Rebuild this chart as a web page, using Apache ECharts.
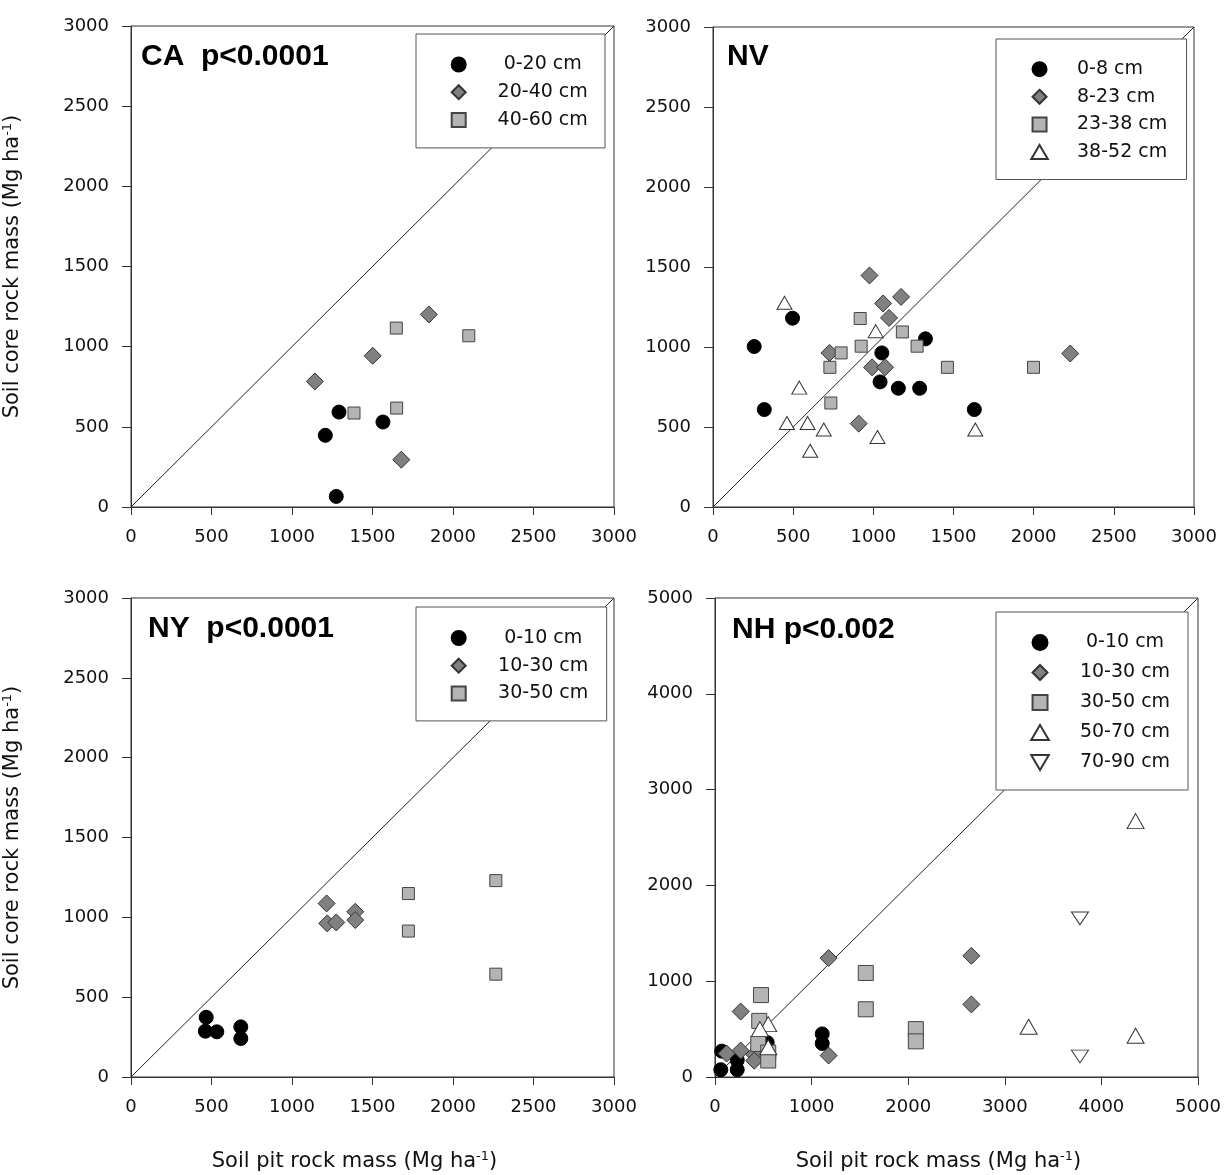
<!DOCTYPE html>
<html>
<head>
<meta charset="utf-8">
<script src="https://cdn.jsdelivr.net/npm/echarts@6/dist/echarts.min.js"></script>
<style>
  html, body { margin: 0; padding: 0; background: #fff; }
  #main { width: 1225px; height: 1175px; }
</style>
</head>
<body>
<div id="main"></div>
<script>
// ---- data (Mg/ha) ----
// CA
const caDepth = ['0-20 cm', '20-40 cm', '40-60 cm'];
const caPit = [[1292, 1207, 1565, 1275], [1142, 1501, 1850, 1679], [1385, 1648, 2098, 1650]];
const caCore = [[592, 447, 530, 66], [783, 943, 1201, 295], [586, 1116, 1068, 617]];
// NV
const nvDepth = ['0-8 cm', '8-23 cm', '23-38 cm', '38-52 cm'];
const nvPit = [
  [257, 496, 320, 1053, 1325, 1042, 1156, 1289, 1630],
  [976, 1061, 1173, 1098, 727, 992, 1073, 909, 2228],
  [918, 799, 729, 924, 1181, 1273, 1462, 1999, 735],
  [446, 1015, 538, 461, 590, 691, 606, 1026, 1636]
];
const nvCore = [
  [1003, 1180, 609, 963, 1051, 782, 742, 742, 609],
  [1447, 1272, 1313, 1182, 963, 873, 873, 521, 959],
  [1178, 963, 873, 1005, 1094, 1005, 873, 873, 650],
  [1276, 1099, 746, 525, 525, 484, 352, 438, 484]
];
// NY
const nyDepth = ['0-10 cm', '10-30 cm', '30-50 cm'];
const nyPit = [[467, 462, 533, 682, 682], [1215, 1219, 1275, 1393, 1393], [1723, 1723, 2266, 2266]];
const nyCore = [[374, 287, 283, 314, 241], [1087, 962, 968, 1035, 983], [1149, 914, 1230, 644]];
// NH
const nhDepth = ['0-10 cm', '10-30 cm', '30-50 cm', '50-70 cm', '70-90 cm'];
const nhPit = [
  [60, 70, 230, 230, 540, 1110, 1110],
  [120, 266, 266, 406, 406, 1176, 1176, 2654, 2654],
  [476, 458, 448, 551, 551, 1561, 1561, 2079, 2079],
  [551, 465, 551, 3247, 4354, 4354],
  [3778, 3778]
];
const nhCore = [
  [76, 270, 76, 175, 360, 450, 350],
  [245, 276, 683, 235, 170, 1241, 224, 1265, 758],
  [855, 586, 345, 255, 172, 1086, 707, 500, 372],
  [552, 500, 310, 524, 2671, 431],
  [1655, 214]
];
// 1:1 lines
const line3000 = [[0, 0], [3000, 3000]];
const line5000 = [[0, 0], [5000, 5000]];
const panelLabels = ['CA  p<0.0001', 'NV', 'NY  p<0.0001', 'NH p<0.002'];

const FONT = 'DejaVu Sans';
const downTri = 'path://M0,0L20,0L10,17Z';
// legend icons as paths so they keep their aspect inside a wide item box
const legendIcons = [
  'circle',
  'path://M10,0L20,10L10,20L0,10Z',
  'path://M0,0L20,0L20,20L0,20Z',
  'path://M10,0L20,17L0,17Z',
  downTri
];
// marker look per depth order
const marks = [
  { symbol: 'circle', size: 14, fill: '#000', border: '#000' },
  { symbol: 'diamond', size: 17, fill: '#808080', border: '#333' },
  { symbol: 'rect', size: 12, fill: '#b4b4b4', border: '#444' },
  { symbol: 'triangle', size: [15, 13], fill: '#fff', border: '#333' },
  { symbol: downTri, size: [15, 13], fill: '#fff', border: '#333' }
];
const marksNH = [
  { symbol: 'circle', size: 14, fill: '#000', border: '#000' },
  { symbol: 'diamond', size: 17, fill: '#808080', border: '#333' },
  { symbol: 'rect', size: 15, fill: '#b4b4b4', border: '#444' },
  { symbol: 'triangle', size: [17, 15], fill: '#fff', border: '#333' },
  { symbol: downTri, size: [17, 15], fill: '#fff', border: '#333' }
];

let series = [];
function addPanel(idx, names, pit, core, look, unity) {
  series.push({
    type: 'line', xAxisIndex: idx, yAxisIndex: idx, data: unity,
    showSymbol: false, silent: true, z: 1,
    lineStyle: { color: '#222', width: 1 }
  });
  names.forEach((name, k) => {
    let m = look[k];
    series.push({
      name: name, type: 'scatter', xAxisIndex: idx, yAxisIndex: idx,
      symbol: m.symbol, symbolSize: m.size, symbolKeepAspect: true,
      itemStyle: { color: m.fill, borderColor: m.border, borderWidth: 1, opacity: 1 },
      data: pit[k].map((x, i) => [x, core[k][i]]),
      z: 3
    });
  });
}
addPanel(0, caDepth, caPit, caCore, marks, line3000);
addPanel(1, nvDepth, nvPit, nvCore, marks, line3000);
addPanel(2, nyDepth, nyPit, nyCore, marks, line3000);
addPanel(3, nhDepth, nhPit, nhCore, marksNH, line5000);

function legendBox(names, left, top, pad, gap, halfW, iconH, textW, align) {
  return {
    data: names.map((n, k) => ({ name: n, icon: legendIcons[k] })),
    orient: 'vertical', left: left, top: top, padding: pad,
    itemGap: gap, itemWidth: halfW * 2, itemHeight: iconH,
    backgroundColor: '#fff', borderColor: '#555', borderWidth: 1, z: 10,
    selectedMode: false,
    formatter: '{t|{name}}',
    textStyle: {
      rich: { t: { fontFamily: FONT, fontSize: 19, color: '#111', width: textW, align: align, lineHeight: 20 } }
    }
  };
}

const plainNum = v => String(v);

function xAx(idx, max, step, named) {
  let ax = {
    type: 'value', gridIndex: idx, min: 0, max: max, interval: step,
    splitLine: { show: false },
    axisLine: { lineStyle: { color: '#333', width: 1 } },
    axisTick: { length: 8, lineStyle: { color: '#333' } },
    axisLabel: { fontFamily: FONT, fontSize: 18, color: '#111', margin: 21, formatter: plainNum }
  };
  if (named) {
    ax.name = 'Soil pit rock mass (Mg ha{sup|-1})';
    ax.nameLocation = 'middle';
    ax.nameGap = 73;
    ax.nameTextStyle = {
      fontFamily: FONT, fontSize: 21, color: '#111', padding: [0, 36, 0, 0], lineHeight: 24,
      rich: { sup: { fontFamily: FONT, fontSize: 13, color: '#111', verticalAlign: 'top', lineHeight: 14 } }
    };
  }
  return ax;
}
function yAx(idx, max, step, named) {
  let ax = {
    type: 'value', gridIndex: idx, min: 0, max: max, interval: step,
    splitLine: { show: false },
    axisLine: { lineStyle: { color: '#333', width: 1 } },
    axisTick: { length: 9, lineStyle: { color: '#333' } },
    axisLabel: { fontFamily: FONT, fontSize: 18, color: '#111', margin: 22, formatter: plainNum }
  };
  if (named) {
    ax.name = 'Soil core rock mass (Mg ha{sup|-1})';
    ax.nameLocation = 'middle';
    ax.nameGap = 106;
    ax.nameTextStyle = {
      fontFamily: FONT, fontSize: 21, color: '#111', lineHeight: 24,
      rich: { sup: { fontFamily: FONT, fontSize: 13, color: '#111', verticalAlign: 'top', lineHeight: 14 } }
    };
  }
  return ax;
}

const titleStyle = { fontFamily: 'Liberation Sans', fontSize: 30, fontWeight: 'bold', color: '#000' };

let option = {
  animation: false,
  backgroundColor: '#fff',
  title: [
    { text: panelLabels[0], left: 141, top: 42, padding: 0, textStyle: titleStyle },
    { text: panelLabels[1], left: 727, top: 42, padding: 0, textStyle: titleStyle },
    { text: panelLabels[2], left: 148, top: 614, padding: 0, textStyle: titleStyle },
    { text: panelLabels[3], left: 732, top: 615, padding: 0, textStyle: titleStyle }
  ],
  grid: [
    { left: 131, top: 26, width: 483, height: 481, show: true, borderColor: '#333', borderWidth: 1 },
    { left: 713, top: 27, width: 481, height: 480, show: true, borderColor: '#333', borderWidth: 1 },
    { left: 131, top: 598, width: 483, height: 481, show: true, borderColor: '#333', borderWidth: 1 },
    { left: 715, top: 598, width: 483, height: 482, show: true, borderColor: '#333', borderWidth: 1 }
  ],
  xAxis: [xAx(0, 3000, 500, false), xAx(1, 3000, 500, false), xAx(2, 3000, 500, true), xAx(3, 5000, 1000, true)],
  yAxis: [yAx(0, 3000, 500, true), yAx(1, 3000, 500, false), yAx(2, 3000, 500, true), yAx(3, 5000, 1000, false)],
  legend: [
    legendBox(caDepth, 416, 34, [21, 7.3, 18.5, 34.7], 8.7, 24, 14, 110, 'center'),
    legendBox(nvDepth, 996, 39, [20.7, 8.5, 18, 34.3], 8.6, 32.5, 14, 101, 'left'),
    legendBox(nyDepth, 416, 607, [21.5, 8.5, 18, 34.7], 8.7, 24.5, 14, 110, 'center'),
    legendBox(nhDepth, 996, 612, [21, 8, 18, 34.2], 11, 25, 15, 110, 'center')
  ],
  series: series
};

let chart = echarts.init(document.getElementById('main'));
chart.setOption(option);
</script>
</body>
</html>
